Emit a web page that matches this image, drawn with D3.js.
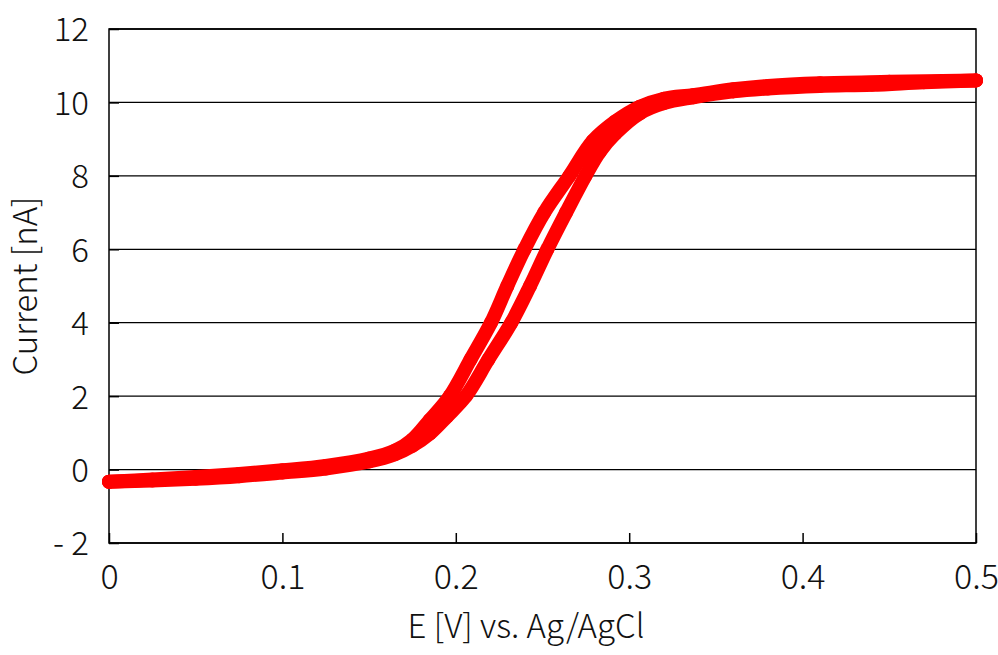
<!DOCTYPE html>
<html>
<head>
<meta charset="utf-8">
<script src="https://cdnjs.cloudflare.com/ajax/libs/d3/7.8.5/d3.min.js"></script>
<style>
  body { margin: 0; background: #fff; }
  text { font-family: "Noto Sans CJK JP", "DejaVu Sans", sans-serif; font-weight: 300; fill: #111; }
</style>
</head>
<body>
<div id="chart"></div>
<script>
// potential sweep, positive-going (lower branch)
var fwdE = [0, 0.025, 0.05, 0.075, 0.1, 0.125, 0.15, 0.165, 0.175, 0.185, 0.195, 0.2058, 0.2188, 0.232,
            0.2428, 0.2528, 0.2636, 0.2748, 0.283, 0.292, 0.306, 0.32, 0.337, 0.36, 0.38, 0.41, 0.44, 0.47, 0.5];
var fwdI = [-0.33, -0.3, -0.25, -0.18, -0.08, 0.03, 0.22, 0.42, 0.65, 0.98, 1.45, 2.0, 3.0, 4.0,
            5.0, 6.0, 7.0, 8.0, 8.65, 9.15, 9.7, 9.98, 10.14, 10.3, 10.38, 10.45, 10.48, 10.55, 10.6];
// return sweep (upper branch), listed by rising potential
var revE = [0, 0.025, 0.05, 0.075, 0.1, 0.125, 0.15, 0.165, 0.175, 0.185, 0.1965, 0.2085, 0.2203, 0.2297,
            0.2396, 0.251, 0.2655, 0.279, 0.292, 0.306, 0.32, 0.337, 0.36, 0.38, 0.41, 0.45, 0.5];
var revI = [-0.33, -0.27, -0.2, -0.12, -0.02, 0.1, 0.3, 0.52, 0.82, 1.35, 2.0, 3.0, 4.0, 5.0,
            6.0, 7.0, 8.0, 8.95, 9.48, 9.88, 10.1, 10.2, 10.36, 10.45, 10.52, 10.56, 10.6];

var xTicks = [0, 0.1, 0.2, 0.3, 0.4, 0.5];
var yTicks = [-2, 0, 2, 4, 6, 8, 10, 12];

var width = 998, height = 655;
var plotL = 109, plotR = 976, plotT = 29, plotB = 543;

var svg = d3.select("#chart").append("svg")
    .attr("width", width)
    .attr("height", height);

var x = d3.scaleLinear().domain([0, 0.5]).range([plotL, plotR]);
var y = d3.scaleLinear().domain([-2, 12]).range([plotB, plotT]);

// horizontal grid
svg.append("g")
    .selectAll("line")
    .data(yTicks)
    .enter().append("line")
    .attr("x1", plotL).attr("x2", plotR)
    .attr("y1", function (d) { return y(d); })
    .attr("y2", function (d) { return y(d); })
    .attr("stroke", "#000")
    .attr("stroke-width", 1.3);

// y axis labels
var yAxis = svg.append("g")
    .attr("transform", "translate(" + plotL + ",0)")
    .call(d3.axisLeft(y).tickValues(yTicks).tickSize(-10).tickPadding(20)
        .tickFormat(function (d) { return d < 0 ? "- " + Math.abs(d) : d; }));
yAxis.select(".domain").remove();
yAxis.selectAll("line").attr("stroke", "#000").attr("stroke-width", 1.5);
yAxis.selectAll("text").attr("font-size", "33px").attr("dy", "0.36em")
    .attr("font-family", "\"Noto Sans CJK JP\", sans-serif").attr("fill", "#111");

// x axis labels + ticks pointing up
var xAxis = svg.append("g")
    .attr("transform", "translate(0," + plotB + ")")
    .call(d3.axisBottom(x).tickValues(xTicks).tickSize(-10).tickPadding(22)
        .tickFormat(function (d) { return d === 0 ? "0" : d3.format(".1f")(d); }));
xAxis.select(".domain").remove();
xAxis.selectAll("line").attr("stroke", "#000").attr("stroke-width", 1.5);
xAxis.selectAll("text").attr("font-size", "34px").attr("dy", "0.71em")
    .attr("font-family", "\"Noto Sans CJK JP\", sans-serif").attr("fill", "#111");

// frame
svg.append("rect")
    .attr("x", plotL).attr("y", plotT)
    .attr("width", plotR - plotL).attr("height", plotB - plotT)
    .attr("fill", "none").attr("stroke", "#000").attr("stroke-width", 1.5);

// data: dense markers drawn as a thick smooth trace
var line = d3.line()
    .curve(d3.curveCatmullRom.alpha(0.5))
    .x(function (d) { return x(d[0]); })
    .y(function (d) { return y(d[1]); });

var series = [d3.zip(fwdE, fwdI), d3.zip(revE, revI)];

svg.append("g").selectAll("path")
    .data(series)
    .enter().append("path")
    .attr("d", line)
    .attr("fill", "none")
    .attr("stroke", "#ff0000")
    .attr("stroke-width", 14)
    .attr("stroke-linejoin", "round")
    .attr("stroke-linecap", "round");

svg.append("g").selectAll("circle")
    .data(d3.merge(series))
    .enter().append("circle")
    .attr("cx", function (d) { return x(d[0]); })
    .attr("cy", function (d) { return y(d[1]); })
    .attr("r", 7)
    .attr("fill", "#ff0000");

// axis titles
svg.append("text")
    .attr("x", 526).attr("y", 638)
    .attr("text-anchor", "middle")
    .attr("font-size", "33px")
    .text("E [V] vs. Ag/AgCl");

svg.append("text")
    .attr("transform", "translate(37," + ((plotT + plotB) / 2) + ") rotate(-90)")
    .attr("text-anchor", "middle")
    .attr("font-size", "33px")
    .text("Current [nA]");
</script>
</body>
</html>
